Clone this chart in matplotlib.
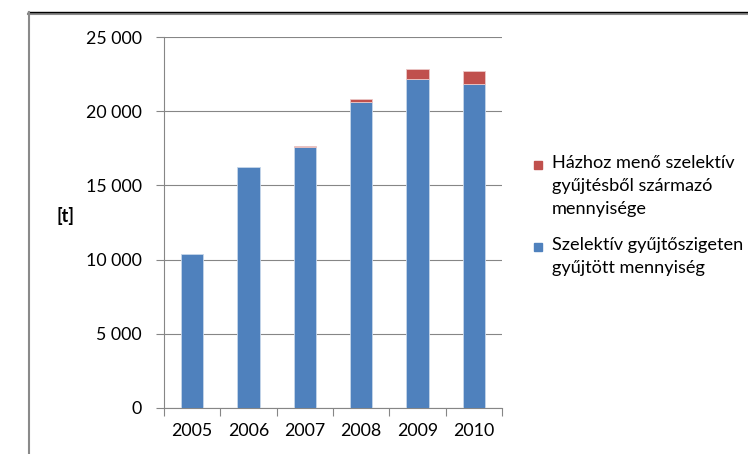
# selective waste collection chart

import matplotlib
matplotlib.use("Agg")
import matplotlib.pyplot as plt
from matplotlib.ticker import FuncFormatter, FixedLocator
from matplotlib.patches import Rectangle
from matplotlib.lines import Line2D

plt.rcParams['font.family'] = ['Lato', 'DejaVu Sans']

years = ["2005", "2006", "2007", "2008", "2009", "2010"]
islands = [10400, 16250, 17580, 20620, 22150, 21800]
household = [0, 0, 70, 200, 700, 930]

names = ["Szelektív gyűjtőszigeten\ngyűjtött mennyiség",
         "Házhoz menő szelektív\ngyűjtésből származó\nmennyisége"]
colors = ["#4F81BD", "#C0504D"]

W, H = 748, 454
fig = plt.figure(figsize=(W / 100, H / 100), dpi=100)
ax = fig.add_axes([164 / W, 1 - 408 / H, 338 / W, 371 / H])

x = range(len(years))
ax.bar(x, islands, width=0.4, color=colors[0], edgecolor="#c6d6ea", linewidth=0.6, zorder=3)
ax.bar(x, household, width=0.4, bottom=islands, color=colors[1], edgecolor="#ecc8c7",
       linewidth=[0.6 if h > 0 else 0 for h in household], zorder=3)

ax.set_xlim(-0.5, len(years) - 0.5)
ax.set_ylim(0, 25000)
ax.set_yticks(range(0, 25001, 5000))
ax.yaxis.set_major_formatter(FuncFormatter(lambda v, p: f"{int(v):,}".replace(",", " ")))
ax.set_xticks(list(x))
ax.set_xticklabels(years)
ax.xaxis.set_minor_locator(FixedLocator([i - 0.5 for i in range(len(years) + 1)]))

grey = "#868686"
ax.grid(axis="y", color=grey, linewidth=0.8, zorder=0)
for s in ["top", "right"]:
    ax.spines[s].set_visible(False)
for s in ["left", "bottom"]:
    ax.spines[s].set_color(grey)
    ax.spines[s].set_linewidth(0.8)
ax.tick_params(axis="y", length=6, color=grey, width=0.8, labelsize=12.8, pad=10)
ax.tick_params(axis="x", which="major", length=0, labelsize=12.8, pad=11)
ax.tick_params(axis="x", which="minor", length=6, color=grey, width=0.8)

ax.set_ylabel("[t]", rotation=0, fontsize=13, fontweight="bold")
ax.yaxis.set_label_coords((66 - 164) / 338, (408 - 225) / 371)

# legend, first line aligned with the square
leg_y = [165, 247]
for name, col, yy in zip(names[::-1], colors[::-1], leg_y):
    fig.patches.append(Rectangle((534 / W, 1 - (yy + 4) / H), 8 / W, 8 / H,
                                 transform=fig.transFigure, color=col))
    fig.text(552 / W, 1 - (yy - 10) / H, name, fontsize=13.1, va="top", ha="left",
             linespacing=1.52)

# frame around the chart
fig.lines.append(Line2D([28 / W, 1], [1 - 13.5 / H] * 2, transform=fig.transFigure,
                        color="#8a8a8a", linewidth=1.5))
fig.lines.append(Line2D([28 / W, 1], [1 - 12 / H] * 2, transform=fig.transFigure,
                        color="black", linewidth=1))
fig.lines.append(Line2D([29 / W] * 2, [0, 1 - 12 / H], transform=fig.transFigure,
                        color="#8a8a8a", linewidth=1.5))

fig.savefig("out.png", dpi=100)
